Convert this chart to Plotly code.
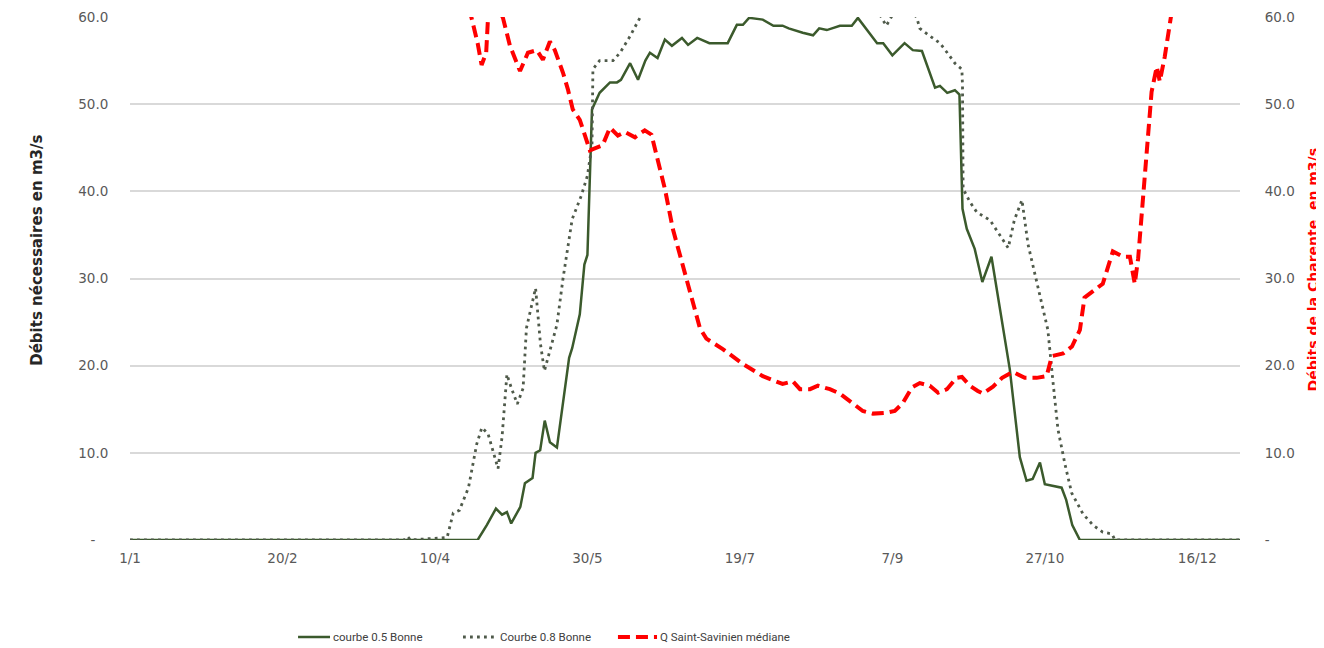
import plotly.graph_objects as go

# ── data (day of year, m3/s) ─────────────────────────────────────────────────

green_days = [1, 115, 118, 121, 123, 124.6, 126, 129, 130.5, 133, 134, 135.5, 137, 138.7,
              141, 143, 145, 146, 148.5, 150, 151, 152.5, 155, 158.4, 160.7, 162, 165,
              167.6, 170, 171.5, 174, 176.4, 178.7, 182, 184, 187, 191, 197, 200, 202,
              204, 208.5, 212, 215, 217, 221.6, 225, 227, 229.5, 233.8, 237.7, 239.7,
              243, 246, 248, 251, 255, 257.7, 260.7, 265, 266.6, 269, 271.5, 273, 274,
              275.4, 278, 280.5, 283.5, 286.5, 289.5, 292.8, 295, 297, 299.4, 301, 304,
              306.5, 308, 310, 312.5, 365]
green_vals = [0, 0, 1.7, 3.6, 2.9, 3.2, 1.9, 3.8, 6.5, 7.1, 10.0, 10.3, 13.7, 11.2,
              10.6, 15.6, 20.9, 22.0, 25.9, 31.6, 32.7, 49.4, 51.3, 52.5, 52.5, 52.8, 54.7,
              52.8, 55.0, 55.9, 55.3, 57.4, 56.7, 57.6, 56.8, 57.6, 57.0, 57.0, 59.1, 59.1,
              59.9, 59.7, 59.0, 59.0, 58.7, 58.2, 57.9, 58.7, 58.5, 59.0, 59.0, 59.9,
              58.4, 57.0, 57.0, 55.6, 57.0, 56.2, 56.1, 51.9, 52.1, 51.3, 51.6, 51.1, 38.0,
              35.7, 33.4, 29.6, 32.5, 26.0, 19.6, 9.5, 6.8, 7.0, 8.9, 6.4, 6.2,
              6.0, 4.6, 1.7, 0, 0]

dot_days = [1, 91, 92, 93, 105, 106, 107, 109, 112, 114.7, 116.4, 118.4, 120, 121.7,
            123, 124.6, 126, 128, 129.9, 131, 134, 135.6, 136.9, 139.3, 141, 143, 146,
            149, 151, 152.5, 152.8, 155, 159.4, 161.7, 165, 168.2, 180, 200, 230, 246.5,
            249, 251.5, 255, 259, 260, 263, 266.6, 269, 271.5, 273.8, 274, 274.2, 276.4,
            278.7, 283, 286, 289, 291, 293.5, 295.5, 298.3, 300.3, 302, 303.6, 305.3,
            307.6, 309.8, 313.5, 316.8, 320, 323, 324, 365]
dot_vals = [0, 0, 0.4, 0, 0.3, 1.9, 3.1, 3.4, 6.0, 11.0, 12.9, 12.2, 10.3, 8.2,
            11.8, 19.0, 17.5, 15.6, 17.4, 24.3, 28.9, 22.5, 19.4, 22.6, 24.7, 30.0, 36.8,
            39.5, 41.8, 45.3, 54.0, 55.0, 55.0, 55.9, 57.8, 59.9, 63.0, 64.0, 63.0, 60.5,
            59.0, 60.5, 62.0, 59.9, 58.7, 57.9, 57.0, 55.9, 54.7, 54.0, 52.1, 40.3, 38.8,
            37.6, 36.7, 35.1, 33.5, 36.7, 39.0, 33.9, 29.8, 26.9, 24.1, 18.4, 12.7,
            8.7, 5.4, 3.0, 1.7, 0.9, 0.7, 0, 0]

red_days = [1, 60, 100, 111, 113, 115, 116.3, 117.8, 118.4, 120.5, 123.3, 125.6, 128.9,
            131.5, 134.4, 136.4, 138.7, 140.3, 143, 144.6, 146.2, 148.5, 150.2, 151.8,
            156, 158.4, 161, 163.3, 166.6, 169.8, 172, 174, 176.4, 179, 182, 184, 185.6,
            187.9, 190, 195.4, 202, 208.5, 215, 218.4, 220.7, 224, 226.6, 230.5, 233.8,
            237.7, 241.3, 244.6, 249, 251.8, 254.4, 257.4, 260, 263.3, 266, 268.9, 272,
            273.8, 276.4, 279, 280.7, 284, 287, 290.5, 294.4, 298.3, 301.6, 303.3, 307,
            309.9, 312.5, 314, 316.8, 320, 323.3, 326.6, 328.9, 330.5, 331.6, 333, 334.4,
            336, 337.7, 338.7, 340.3, 341.4, 342.6, 345, 365]
red_vals = [85, 95, 75, 62, 59.9, 57.0, 54.5, 55.9, 59.9, 62.0, 59.9, 56.7, 53.8,
            55.9, 56.2, 55.1, 57.2, 56.2, 53.6, 51.7, 49.4, 48.2, 46.4, 44.7,
            45.3, 47.3, 46.4, 46.8, 46.2, 47.0, 46.5, 43.7, 40.3, 35.7, 31.9, 29.3, 27.0,
            24.3, 23.1, 21.9, 20.2, 18.8, 17.9, 18.2, 17.3, 17.3, 17.7, 17.3, 16.8,
            15.7, 14.8, 14.5, 14.6, 14.8, 15.7, 17.5, 18.0, 17.7, 16.9, 17.3, 18.6,
            18.7, 17.7, 17.1, 16.8, 17.6, 18.6, 19.3, 18.6, 18.6, 18.8, 21.1, 21.4,
            22.2, 24.1, 27.8, 28.6, 29.4, 33.1, 32.5, 32.5, 29.4, 32.3, 38.8, 45.3,
            51.4, 54.3, 52.6, 55.4, 57.9, 60.0, 66, 90]

x_tickvals = [1, 51, 101, 151, 201, 251, 301, 351]
x_ticktext = ["1/1", "20/2", "10/4", "30/5", "19/7", "7/9", "27/10", "16/12"]
y_tickvals = [0, 10, 20, 30, 40, 50, 60]
y_ticktext_left = ["-&nbsp;&nbsp;&nbsp;", "10.0", "20.0", "30.0", "40.0", "50.0", "60.0"]
y_ticktext_right = ["-", "10.0", "20.0", "30.0", "40.0", "50.0", "60.0"]

assert len(green_days) == len(green_vals)
assert len(dot_days) == len(dot_vals)
assert len(red_days) == len(red_vals)

TICK_FONT = dict(family="DejaVu Sans", size=13.5, color="#595959")
LEG_FONT = dict(family="Roboto", size=11.5, color="#404040")

SERIES = [
    # name, colour, width, dash
    ("courbe 0.5 Bonne", "#3b5a2c", 2.5, "solid"),
    ("Courbe 0.8 Bonne", "#4f5a4a", 2.8, "2.8px,4.2px"),
    ("Q Saint-Savinien médiane", "#ff0000", 4, "12px,6px"),
]

fig = go.Figure()

for (name, color, width, dash), xs, ys, yax in zip(
        SERIES, [green_days, dot_days, red_days], [green_vals, dot_vals, red_vals],
        ["y", "y", "y2"]):
    fig.add_trace(go.Scatter(
        x=xs, y=ys, mode="lines", name=name, yaxis=yax,
        line=dict(color=color, width=width, dash=dash),
    ))

# hand-made legend row under the chart (paper coords)
LEG_Y = -0.1855
leg_items = [(0.1514, 0.1802), (0.300, 0.3306), (0.4396, 0.4748)]
for (name, color, width, dash), (x0, x1) in zip(SERIES, leg_items):
    fig.add_shape(type="line", xref="paper", yref="paper", x0=x0, x1=x1, y0=LEG_Y, y1=LEG_Y,
                  line=dict(color=color, width=width, dash=dash))
    fig.add_annotation(text=name, x=x1 + 0.001, y=LEG_Y, xref="paper", yref="paper",
                       xanchor="left", yanchor="middle", showarrow=False, font=LEG_FONT)

# axis titles placed by hand
fig.add_annotation(
    text="<b>Débits nécessaires en m3/s</b>", textangle=-90,
    x=-0.084, y=0.5545, xref="paper", yref="paper", xanchor="center", yanchor="middle",
    showarrow=False, font=dict(family="DejaVu Sans", size=15, color="#262626"),
)
fig.add_annotation(
    text="<b>Débits de la Charente  en m3/s</b>", textangle=-90,
    x=1.066, y=0.516, xref="paper", yref="paper", xanchor="center", yanchor="middle",
    showarrow=False, font=dict(family="DejaVu Sans", size=14, color="#ff0000"),
)

fig.update_layout(
    width=1316, height=640,
    margin=dict(l=122, r=84, t=9, b=108, autoexpand=False),
    plot_bgcolor="#ffffff", paper_bgcolor="#ffffff",
    showlegend=False,
    xaxis=dict(
        range=[1, 365], tickvals=x_tickvals, ticktext=x_ticktext,
        showgrid=False, zeroline=False, showline=False, automargin=False,
        tickfont=TICK_FONT, ticks="outside", ticklen=6, tickcolor="rgba(0,0,0,0)",
    ),
    yaxis=dict(
        range=[0, 60], tickvals=y_tickvals, ticktext=y_ticktext_left,
        showgrid=True, gridcolor="#d9d9d9", gridwidth=1.5, zeroline=False,
        tickfont=TICK_FONT, ticks="outside", ticklen=18, tickcolor="rgba(0,0,0,0)",
        ticklabeloverflow="allow", automargin=False,
    ),
    yaxis2=dict(
        range=[0, 60], tickvals=y_tickvals, ticktext=y_ticktext_right,
        overlaying="y", side="right", showgrid=False, zeroline=False,
        tickfont=TICK_FONT, ticks="outside", ticklen=21, tickcolor="rgba(0,0,0,0)",
        ticklabeloverflow="allow", automargin=False,
    ),
)

fig.write_html("out.html")
